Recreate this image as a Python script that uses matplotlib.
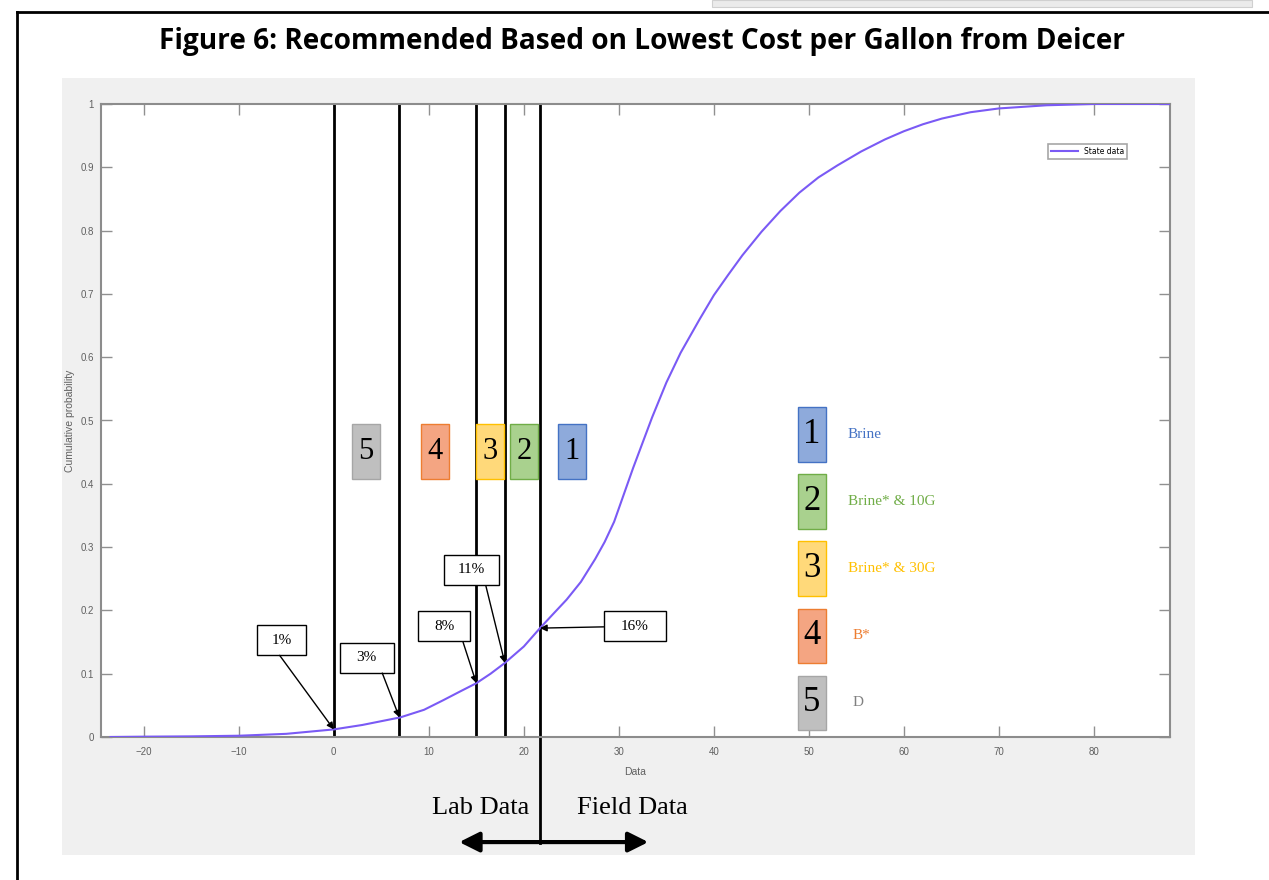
import matplotlib
matplotlib.use('Agg')
import matplotlib.pyplot as plt
from matplotlib.patches import Rectangle

# cumulative distribution
data_x = [-23.5, -20, -15, -10, -5, 0, 3, 7, 9.5, 11.5, 13.3, 15, 16.5, 18, 20, 21.7, 23,
          24.5, 26, 27.5, 28.5, 29.5, 31.5, 33.5, 35, 36.5, 38.5, 40, 41.5, 43, 45, 47, 49,
          51, 53, 55.5, 58, 60, 62, 64, 67, 70, 75, 80, 88]
cum_prob = [0.0, 0.0005, 0.001, 0.002, 0.005, 0.012, 0.019, 0.031, 0.043, 0.058, 0.072,
            0.085, 0.1, 0.117, 0.143, 0.172, 0.193, 0.217, 0.245, 0.281, 0.308, 0.34,
            0.425, 0.505, 0.56, 0.607, 0.66, 0.698, 0.73, 0.761, 0.798, 0.831, 0.86,
            0.884, 0.903, 0.925, 0.944, 0.957, 0.968, 0.977, 0.987, 0.993, 0.998, 1.0, 1.0]

# cut-off lines and the share below each
cut_x = [0, 6.9, 15, 18, 21.7]
cut_y = [0.012, 0.031, 0.085, 0.117, 0.172]
cut_labels = ['1%', '3%', '8%', '11%', '16%']

ranks = ['1', '2', '3', '4', '5']
names = ['Brine', 'Brine* & 10G', 'Brine* & 30G', 'B*', 'D']
rank_x = [25.05, 20.0, 16.4, 10.6, 3.4]
fills = ['#8eaadb', '#a9d18e', '#ffd97a', '#f4a582', '#bfbfbf']
edges = ['#4472c4', '#70ad47', '#ffc000', '#ed7d31', '#a6a6a6']
text_cols = ['#4472c4', '#70ad47', '#ffc000', '#ed7d31', '#808080']

x_ticks = [-20, -10, 0, 10, 20, 30, 40, 50, 60, 70, 80]
y_ticks = [0, 0.1, 0.2, 0.3, 0.4, 0.5, 0.6, 0.7, 0.8, 0.9, 1.0]
y_ticklabels = ['0', '0.1', '0.2', '0.3', '0.4', '0.5', '0.6', '0.7', '0.8', '0.9', '1']

W, H = 1269, 880
fig = plt.figure(figsize=(W / 100, H / 100), dpi=100)
fig.patch.set_facecolor('white')

# page decorations
bg = fig.add_axes([0, 0, 1, 1], zorder=-5)
bg.set_xlim(0, W)
bg.set_ylim(H, 0)
bg.axis('off')
bg.add_patch(Rectangle((62, 78), 1195 - 62, 855 - 78, facecolor='#f0f0f0', edgecolor='none'))
bg.add_patch(Rectangle((712, 0), 540, 7, facecolor='#ebebeb', edgecolor='#d0d0d0', lw=0.8))
bg.plot([17, 17], [12, H], color='black', lw=2)
bg.plot([17, W], [12, 12], color='black', lw=2)
bg.text(642, 41, 'Figure 6: Recommended Based on Lowest Cost per Gallon from Deicer',
        ha='center', va='center', fontsize=20.2, fontweight='bold', family='Open Sans')

ax = fig.add_axes([101 / W, 1 - 737 / H, (1170 - 101) / W, (737 - 104) / H], zorder=1)
ax.set_facecolor('white')
ax.set_xlim(-24.5, 88)
ax.set_ylim(0, 1)

ax.plot(data_x, cum_prob, color='#7a5af5', lw=1.5, label='State data', zorder=3)

for xv in cut_x:
    ax.axvline(xv, color='black', lw=2, zorder=2)

# number boxes between the lines
for r, xc, fc, ec in zip(ranks, rank_x, fills, edges):
    ax.add_patch(Rectangle((xc - 1.47, 0.407), 2.95, 0.088, facecolor=fc, edgecolor=ec, lw=1, zorder=4))
    ax.text(xc, 0.451, r, ha='center', va='center', fontsize=22, family='Liberation Serif', zorder=5)

# key on the right
for i, (r, nm, fc, ec, tc) in enumerate(zip(ranks, names, fills, edges, text_cols)):
    yc = 0.478 - i * 0.106
    ax.add_patch(Rectangle((48.8, yc - 0.043), 2.95, 0.086, facecolor=fc, edgecolor=ec, lw=1, zorder=4))
    ax.text(50.3, yc, r, ha='center', va='center', fontsize=25, family='Liberation Serif', zorder=5)
    ax.text(54.1 if i < 3 else 54.6, yc, nm, ha='left', va='center', fontsize=11,
            family='Liberation Serif', color=tc)

# percentage callouts: box centre, box size, arrow start
box_c = [(-5.47, 0.153), (3.47, 0.125), (11.6, 0.175), (14.5, 0.264), (31.7, 0.175)]
box_w = [5.15, 5.7, 5.5, 5.8, 6.6]
arrow_from = [(-5.7, 0.129), (5.1, 0.101), (13.6, 0.150), (16.0, 0.239), (28.4, 0.174)]
for lab, xv, yv, (cx, cy), bw, st in zip(cut_labels, cut_x, cut_y, box_c, box_w, arrow_from):
    ax.add_patch(Rectangle((cx - bw / 2, cy - 0.024), bw, 0.048, facecolor='white',
                           edgecolor='black', lw=1, zorder=6))
    ax.text(cx, cy, lab, ha='center', va='center', fontsize=11, family='Liberation Serif', zorder=7)
    ax.annotate('', xy=(xv, yv), xytext=st, zorder=6,
                arrowprops=dict(arrowstyle='-|>', color='black', lw=1, mutation_scale=10,
                                shrinkA=0, shrinkB=0))

# lab / field split below the axis
ax.plot([cut_x[-1], cut_x[-1]], [0, -0.168], color='black', lw=2, clip_on=False)
ax.annotate('', xy=(13.2, -0.166), xytext=(33.1, -0.166), annotation_clip=False,
            arrowprops=dict(arrowstyle='<|-|>', color='black', lw=3, mutation_scale=30,
                            shrinkA=0, shrinkB=0))
ax.text(15.4, -0.112, 'Lab Data', ha='center', va='center', fontsize=19, family='Liberation Serif')
ax.text(31.4, -0.112, 'Field Data', ha='center', va='center', fontsize=19, family='Liberation Serif')

ax.set_xticks(x_ticks)
ax.set_yticks(y_ticks)
ax.set_yticklabels(y_ticklabels)
ax.tick_params(direction='in', length=8, width=1, color='#909090', labelcolor='#606060',
               labelsize=7, top=True, right=True)
ax.tick_params(axis='x', pad=7)
ax.tick_params(axis='y', pad=5)
for lbl in ax.get_xticklabels() + ax.get_yticklabels():
    lbl.set_family('Liberation Sans')
for s in ax.spines.values():
    s.set_color('#8c8c8c')
    s.set_linewidth(1.5)

ax.set_xlabel('Data', fontsize=7.5, color='#606060', family='Liberation Sans')
ax.set_ylabel('Cumulative probability', fontsize=7.5, color='#606060', family='Liberation Sans')
ax.xaxis.set_label_coords(0.5, -0.047)
ax.yaxis.set_label_coords(-0.024, 0.5)

leg = ax.legend(loc='upper right', bbox_to_anchor=(0.96, 0.937), borderaxespad=0, fontsize=5.5,
                handlelength=3.5, frameon=True, fancybox=False)
leg.get_frame().set_edgecolor('#909090')
leg.get_frame().set_linewidth(1.2)

fig.savefig('out.png', dpi=100)
